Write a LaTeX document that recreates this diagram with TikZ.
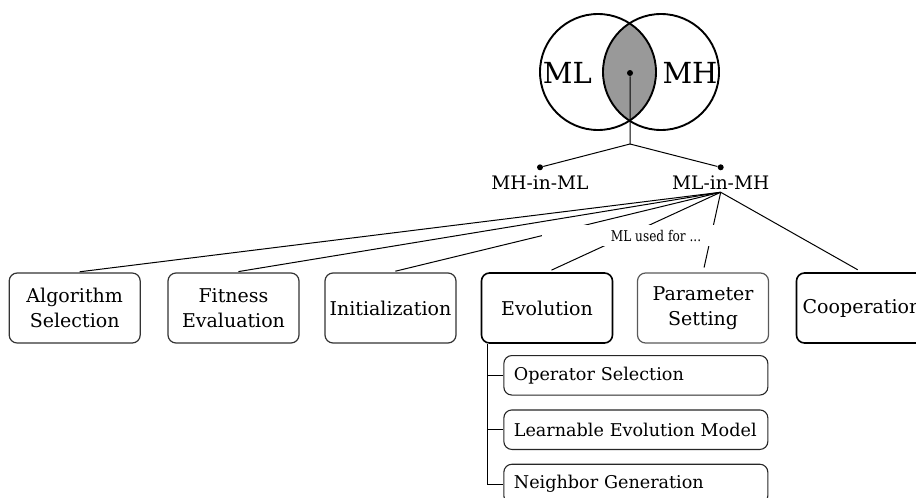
\documentclass[tikz,border=0pt]{standalone}
\usepackage{fontspec}
\setmainfont{DejaVu Serif}
\newfontfamily\narrowserif[FakeStretch=0.82]{DejaVu Serif}
\usetikzlibrary{positioning}
\usetikzlibrary{calc}
\tikzset{basic box/.style={draw,rounded corners=4pt}}
\tikzset{cat box/.style={basic box,
                         align=center,
                         text width=63.5pt,
                         inner xsep=1pt,
                         minimum height=35pt,
                         line width=.6pt,
                         draw=black!80,
                         font=\fontsize{9.5}{12.5}\selectfont}}
\tikzset{sub box/.style={basic box,
                         align=left,
                         anchor=west,
                         text width=122pt,
                         inner xsep=5pt,
                         minimum height=19.75pt,
                         line width=.55pt,
                         draw=black!85,
                         font=\fontsize{8.8}{10}\selectfont}}
\tikzset{edge/.style={draw,line width=.5pt}}
\tikzset{dot/.style={circle,fill=black,inner sep=0pt,minimum size=3pt}}

\begin{document}
\begin{tikzpicture}
      [
      x=0.5pt,y=-0.5pt,
      venn/.style={draw,circle,minimum size=58pt,inner sep=0pt,line width=.95pt},
      tag/.style={inner sep=1pt,font=\fontsize{9.3}{11}\selectfont},
      plain/.style={},
      strong/.style={draw=black,line width=.8pt},
      light/.style={draw=black!65},
      ]
      \clip (0,0) rectangle (916,498);

      % venn diagram
      \coordinate (cML) at (598,72);
      \coordinate (cMH) at (661,72);
      \begin{scope}
      \clip (cML) circle [radius=29pt];
      \fill [black!40] (cMH) circle [radius=29pt];
      \end{scope}
      \node [venn] (setML) at (cML) {};
      \node [venn] (setMH) at (cMH) {};
      \node [font=\fontsize{14.5}{16}\selectfont] (lblML) at (567.3,72.7) {ML};
      \node [font=\fontsize{14.5}{16}\selectfont] (lblMH) at (690,72.7) {MH};
      \node [dot] (core) at (630,73) {};

      % two directions
      \coordinate (split) at (630,144);
      \node [dot] (mhdot) at (540,167.3) {};
      \node [dot] (mldot) at (720.7,167.3) {};
      \node [tag] (mhinml) at (540,183) {MH-in-ML};
      \node [tag] (mlinmh) at (720.7,183) {ML-in-MH};
      \draw [edge] (core) -- (split) -- (mhdot);
      \draw [edge] (split) -- (mldot);

      % categories
      \foreach \i/\x/\s/\l in
      {
      1/74.7/plain/{Algorithm\\Selection},
      2/233.5/plain/{Fitness\\Evaluation},
      3/390.5/plain/{Initialization},
      4/547/strong/{Evolution},
      5/703/light/{Parameter\\Setting},
      6/862/strong/{Cooperation}
      }
      {
      \node [cat box,\s] (C\i) at (\x,308) {\l};
      \draw [edge,shorten >=2.5pt] (mlinmh.south) -- (C\i.north);
      }

      \node [fill=white,inner sep=0pt,minimum width=114pt,minimum height=10.5pt,
      font=\narrowserif\fontsize{7.4}{9}\selectfont] (usedfor) at (656,235.5) {ML used for ...};

      % evolution details
      \node [sub box] (S1) at (503.3,375.3) {Operator Selection};
      \node [sub box] (S2) at (503.3,429.7) {Learnable Evolution Model};
      \node [sub box] (S3) at (503.3,484) {Neighbor Generation};
      \coordinate (trunk) at ($(C4.south west)+(6.6,0)$);
      \draw [edge] (trunk) |- (S3.west);
      \draw [edge] (trunk |- S1.west) -- (S1.west);
      \draw [edge] (trunk |- S2.west) -- (S2.west);

    \end{tikzpicture}
\end{document}
